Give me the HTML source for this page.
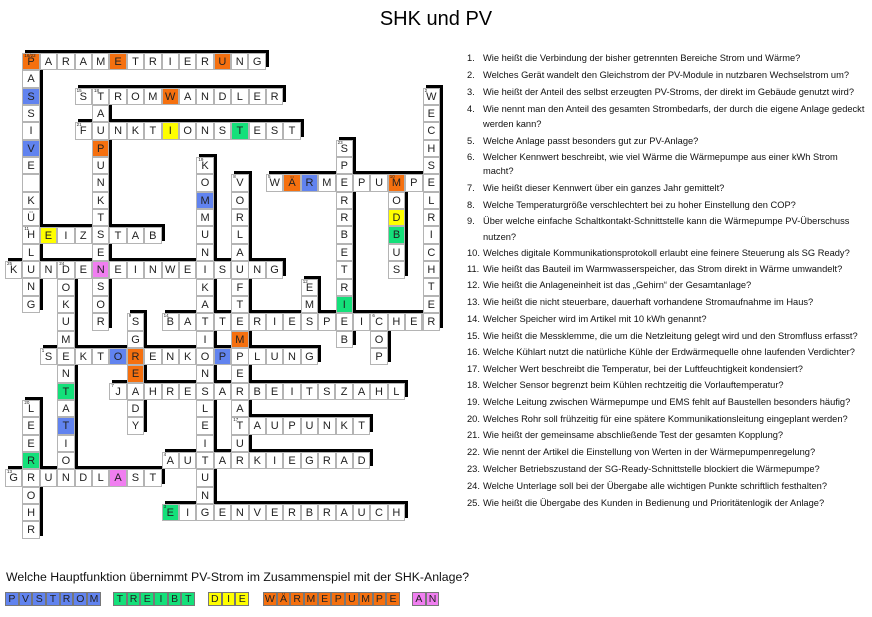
<!DOCTYPE html>
<html><head><meta charset="utf-8">
<style>
body{margin:0;width:872px;height:617px;background:#fff;position:relative;overflow:hidden;font-family:"Liberation Sans",Arial,sans-serif}
.s{position:absolute;background:#000}
.w{position:absolute;display:flex}
.v{flex-direction:column}
.w b{display:block;width:17.4px;height:17.35px;box-sizing:border-box;border:1px solid #b4b4b4;background:#fff;font-weight:normal;font-size:11px;line-height:16px;text-align:center;color:#222;position:relative}
.w b i{position:absolute;left:1px;top:-1px;font-size:4.5px;line-height:5px;font-style:normal;color:#222}
.w b.o{background:#f5700f}.w b.u{background:#6183ef}.w b.y{background:#ffff00}.w b.g{background:#14e07a}.w b.p{background:#f07ef0}
.t{position:absolute;font-size:20px;left:0;width:872px;text-align:center;top:8px}
.q{position:absolute;left:6px;top:570px;font-size:12.3px;color:#111}
.a{position:absolute;top:592px;display:flex}
.a b{display:block;width:13.7px;height:14px;box-sizing:border-box;border:1px solid #777;font-weight:normal;font-size:10.5px;line-height:12px;text-align:center;color:#222}
.a.u b{background:#6183ef}.a.g b{background:#14e07a}.a.y b{background:#ffff00}.a.o b{background:#f5700f}.a.p b{background:#f07ef0}
.n{position:absolute;left:467px;font-size:9.3px;color:#111;white-space:nowrap}
.x{position:absolute;left:483px;font-size:9.3px;color:#111;white-space:nowrap}
</style></head><body>
<div class="t">SHK und PV</div>

<div class="s" style="left:25.4px;top:50px;width:243.6px;height:17.4px"></div>
<div class="s" style="left:77.6px;top:84.7px;width:208.8px;height:17.4px"></div>
<div class="s" style="left:77.6px;top:119.4px;width:226.2px;height:17.4px"></div>
<div class="s" style="left:269px;top:171.45px;width:174px;height:17.4px"></div>
<div class="s" style="left:25.4px;top:223.5px;width:139.2px;height:17.4px"></div>
<div class="s" style="left:8px;top:258.2px;width:278.4px;height:17.4px"></div>
<div class="s" style="left:164.6px;top:310.25px;width:278.4px;height:17.4px"></div>
<div class="s" style="left:42.8px;top:344.95px;width:278.4px;height:17.4px"></div>
<div class="s" style="left:112.4px;top:379.65px;width:295.8px;height:17.4px"></div>
<div class="s" style="left:234.2px;top:414.35px;width:139.2px;height:17.4px"></div>
<div class="s" style="left:164.6px;top:449.05px;width:208.8px;height:17.4px"></div>
<div class="s" style="left:8px;top:466.4px;width:156.6px;height:17.4px"></div>
<div class="s" style="left:164.6px;top:501.1px;width:243.6px;height:17.4px"></div>
<div class="s" style="left:25.4px;top:50px;width:17.4px;height:260.25px"></div>
<div class="s" style="left:95px;top:84.7px;width:17.4px;height:242.9px"></div>
<div class="s" style="left:199.4px;top:154.1px;width:17.4px;height:364.35px"></div>
<div class="s" style="left:234.2px;top:171.45px;width:17.4px;height:294.95px"></div>
<div class="s" style="left:338.6px;top:136.75px;width:17.4px;height:208.2px"></div>
<div class="s" style="left:390.8px;top:171.45px;width:17.4px;height:104.1px"></div>
<div class="s" style="left:425.6px;top:84.7px;width:17.4px;height:242.9px"></div>
<div class="s" style="left:303.8px;top:275.55px;width:17.4px;height:52.05px"></div>
<div class="s" style="left:373.4px;top:310.25px;width:17.4px;height:52.05px"></div>
<div class="s" style="left:129.8px;top:310.25px;width:17.4px;height:121.45px"></div>
<div class="s" style="left:60.2px;top:258.2px;width:17.4px;height:225.55px"></div>
<div class="s" style="left:25.4px;top:397px;width:17.4px;height:138.8px"></div>

<div class="w" style="left:22.4px;top:53px"><b class="o"><i>16/22</i>P</b><b>A</b><b>R</b><b>A</b><b>M</b><b class="o">E</b><b>T</b><b>R</b><b>I</b><b>E</b><b>R</b><b class="o">U</b><b>N</b><b>G</b></div>
<div class="w" style="left:74.6px;top:87.7px"><b><i>15</i>S</b><b><i>18</i>T</b><b>R</b><b>O</b><b>M</b><b class="o">W</b><b>A</b><b>N</b><b>D</b><b>L</b><b>E</b><b>R</b></div>
<div class="w" style="left:74.6px;top:122.4px"><b><i>21</i>F</b><b>U</b><b>N</b><b>K</b><b>T</b><b class="y">I</b><b>O</b><b>N</b><b>S</b><b class="g">T</b><b>E</b><b>S</b><b>T</b></div>
<div class="w" style="left:266px;top:174.45px"><b><i>5</i>W</b><b class="o">Ä</b><b class="u">R</b><b>M</b><b>E</b><b>P</b><b>U</b><b class="o"><i>10</i>M</b><b>P</b><b>E</b></div>
<div class="w" style="left:22.4px;top:226.5px"><b><i>11</i>H</b><b class="y">E</b><b>I</b><b>Z</b><b>S</b><b>T</b><b>A</b><b>B</b></div>
<div class="w" style="left:5px;top:261.2px"><b><i>25</i>K</b><b>U</b><b>N</b><b><i>24</i>D</b><b>E</b><b class="p">N</b><b>E</b><b>I</b><b>N</b><b>W</b><b>E</b><b>I</b><b>S</b><b>U</b><b>N</b><b>G</b></div>
<div class="w" style="left:161.6px;top:313.25px"><b><i>14</i>B</b><b>A</b><b>T</b><b>T</b><b>E</b><b>R</b><b>I</b><b>E</b><b>S</b><b>P</b><b>E</b><b>I</b><b><i>6</i>C</b><b>H</b><b>E</b><b>R</b></div>
<div class="w" style="left:39.8px;top:347.95px"><b><i>1</i>S</b><b>E</b><b>K</b><b>T</b><b class="u">O</b><b class="o">R</b><b>E</b><b>N</b><b>K</b><b>O</b><b class="u">P</b><b>P</b><b>L</b><b>U</b><b>N</b><b>G</b></div>
<div class="w" style="left:109.4px;top:382.65px"><b><i>7</i>J</b><b>A</b><b>H</b><b>R</b><b>E</b><b>S</b><b>A</b><b>R</b><b>B</b><b>E</b><b>I</b><b>T</b><b>S</b><b>Z</b><b>A</b><b>H</b><b>L</b></div>
<div class="w" style="left:231.2px;top:417.35px"><b><i>17</i>T</b><b>A</b><b>U</b><b>P</b><b>U</b><b>N</b><b>K</b><b>T</b></div>
<div class="w" style="left:161.6px;top:452.05px"><b><i>4</i>A</b><b>U</b><b>T</b><b>A</b><b>R</b><b>K</b><b>I</b><b>E</b><b>G</b><b>R</b><b>A</b><b>D</b></div>
<div class="w" style="left:5px;top:469.4px"><b><i>13</i>G</b><b>R</b><b>U</b><b>N</b><b>D</b><b>L</b><b class="p">A</b><b>S</b><b>T</b></div>
<div class="w" style="left:161.6px;top:504.1px"><b class="g"><i>3</i>E</b><b>I</b><b>G</b><b>E</b><b>N</b><b>V</b><b>E</b><b>R</b><b>B</b><b>R</b><b>A</b><b>U</b><b>C</b><b>H</b></div>

<div class="w v" style="left:22.4px;top:53px"><b class="o"><i>16/22</i>P</b><b>A</b><b class="u">S</b><b>S</b><b>I</b><b class="u">V</b><b>E</b><b>&nbsp;</b><b>K</b><b>Ü</b><b><i>11</i>H</b><b>L</b><b>U</b><b>N</b><b>G</b></div>
<div class="w v" style="left:92px;top:87.7px"><b><i>18</i>T</b><b>A</b><b>U</b><b class="o">P</b><b>U</b><b>N</b><b>K</b><b>T</b><b>S</b><b>E</b><b class="p">N</b><b>S</b><b>O</b><b>R</b></div>
<div class="w v" style="left:196.4px;top:157.1px"><b><i>19</i>K</b><b>O</b><b class="u">M</b><b>M</b><b>U</b><b>N</b><b>I</b><b>K</b><b>A</b><b>T</b><b>I</b><b>O</b><b>N</b><b>S</b><b>L</b><b>E</b><b>I</b><b>T</b><b>U</b><b>N</b><b>G</b></div>
<div class="w v" style="left:231.2px;top:174.45px"><b><i>8</i>V</b><b>O</b><b>R</b><b>L</b><b>A</b><b>U</b><b>F</b><b>T</b><b>E</b><b class="o">M</b><b>P</b><b>E</b><b>R</b><b>A</b><b><i>17</i>T</b><b>U</b><b>R</b></div>
<div class="w v" style="left:335.6px;top:139.75px"><b><i>23</i>S</b><b>P</b><b>E</b><b>R</b><b>R</b><b>B</b><b>E</b><b>T</b><b>R</b><b class="g">I</b><b>E</b><b>B</b></div>
<div class="w v" style="left:387.8px;top:174.45px"><b class="o"><i>10</i>M</b><b>O</b><b class="y">D</b><b class="g">B</b><b>U</b><b>S</b></div>
<div class="w v" style="left:422.6px;top:87.7px"><b><i>2</i>W</b><b>E</b><b>C</b><b>H</b><b>S</b><b>E</b><b>L</b><b>R</b><b>I</b><b>C</b><b>H</b><b>T</b><b>E</b><b>R</b></div>
<div class="w v" style="left:300.8px;top:278.55px"><b><i>12</i>E</b><b>M</b><b>S</b></div>
<div class="w v" style="left:370.4px;top:313.25px"><b><i>6</i>C</b><b>O</b><b>P</b></div>
<div class="w v" style="left:126.8px;top:313.25px"><b><i>9</i>S</b><b>G</b><b class="o">R</b><b class="o">E</b><b>A</b><b>D</b><b>Y</b></div>
<div class="w v" style="left:57.2px;top:261.2px"><b><i>24</i>D</b><b>O</b><b>K</b><b>U</b><b>M</b><b>E</b><b>N</b><b class="g">T</b><b>A</b><b class="u">T</b><b>I</b><b>O</b><b>N</b></div>
<div class="w v" style="left:22.4px;top:400px"><b><i>20</i>L</b><b>E</b><b>E</b><b class="g">R</b><b>R</b><b>O</b><b>H</b><b>R</b></div>

<div class="q">Welche Hauptfunktion übernimmt PV-Strom im Zusammenspiel mit der SHK-Anlage?</div>
<div class="a u" style="left:5px"><b>P</b><b>V</b><b>S</b><b>T</b><b>R</b><b>O</b><b>M</b></div>
<div class="a g" style="left:113px"><b>T</b><b>R</b><b>E</b><b>I</b><b>B</b><b>T</b></div>
<div class="a y" style="left:208px"><b>D</b><b>I</b><b>E</b></div>
<div class="a o" style="left:263px"><b>W</b><b>Ä</b><b>R</b><b>M</b><b>E</b><b>P</b><b>U</b><b>M</b><b>P</b><b>E</b></div>
<div class="a p" style="left:412px"><b>A</b><b>N</b></div>

<div class="n" style="top:53px">1.</div><div class="x" style="top:53px">Wie heißt die Verbindung der bisher getrennten Bereiche Strom und Wärme?</div>
<div class="n" style="top:70px">2.</div><div class="x" style="top:70px">Welches Gerät wandelt den Gleichstrom der PV-Module in nutzbaren Wechselstrom um?</div>
<div class="n" style="top:87px">3.</div><div class="x" style="top:87px">Wie heißt der Anteil des selbst erzeugten PV-Stroms, der direkt im Gebäude genutzt wird?</div>
<div class="n" style="top:104px">4.</div><div class="x" style="top:104px">Wie nennt man den Anteil des gesamten Strombedarfs, der durch die eigene Anlage gedeckt</div>
<div class="x" style="top:119px">werden kann?</div>
<div class="n" style="top:136px">5.</div><div class="x" style="top:136px">Welche Anlage passt besonders gut zur PV-Anlage?</div>
<div class="n" style="top:152px">6.</div><div class="x" style="top:152px">Welcher Kennwert beschreibt, wie viel Wärme die Wärmepumpe aus einer kWh Strom</div>
<div class="x" style="top:166px">macht?</div>
<div class="n" style="top:183px">7.</div><div class="x" style="top:183px">Wie heißt dieser Kennwert über ein ganzes Jahr gemittelt?</div>
<div class="n" style="top:200px">8.</div><div class="x" style="top:200px">Welche Temperaturgröße verschlechtert bei zu hoher Einstellung den COP?</div>
<div class="n" style="top:216px">9.</div><div class="x" style="top:216px">Über welche einfache Schaltkontakt-Schnittstelle kann die Wärmepumpe PV-Überschuss</div>
<div class="x" style="top:232px">nutzen?</div>
<div class="n" style="top:248px">10.</div><div class="x" style="top:248px">Welches digitale Kommunikationsprotokoll erlaubt eine feinere Steuerung als SG Ready?</div>
<div class="n" style="top:264px">11.</div><div class="x" style="top:264px">Wie heißt das Bauteil im Warmwasserspeicher, das Strom direkt in Wärme umwandelt?</div>
<div class="n" style="top:280px">12.</div><div class="x" style="top:280px">Wie heißt die Anlageneinheit ist das „Gehirn“ der Gesamtanlage?</div>
<div class="n" style="top:297px">13.</div><div class="x" style="top:297px">Wie heißt die nicht steuerbare, dauerhaft vorhandene Stromaufnahme im Haus?</div>
<div class="n" style="top:314px">14.</div><div class="x" style="top:314px">Welcher Speicher wird im Artikel mit 10 kWh genannt?</div>
<div class="n" style="top:331px">15.</div><div class="x" style="top:331px">Wie heißt die Messklemme, die um die Netzleitung gelegt wird und den Stromfluss erfasst?</div>
<div class="n" style="top:347px">16.</div><div class="x" style="top:347px">Welche Kühlart nutzt die natürliche Kühle der Erdwärmequelle ohne laufenden Verdichter?</div>
<div class="n" style="top:364px">17.</div><div class="x" style="top:364px">Welcher Wert beschreibt die Temperatur, bei der Luftfeuchtigkeit kondensiert?</div>
<div class="n" style="top:380px">18.</div><div class="x" style="top:380px">Welcher Sensor begrenzt beim Kühlen rechtzeitig die Vorlauftemperatur?</div>
<div class="n" style="top:397px">19.</div><div class="x" style="top:397px">Welche Leitung zwischen Wärmepumpe und EMS fehlt auf Baustellen besonders häufig?</div>
<div class="n" style="top:414px">20.</div><div class="x" style="top:414px">Welches Rohr soll frühzeitig für eine spätere Kommunikationsleitung eingeplant werden?</div>
<div class="n" style="top:430px">21.</div><div class="x" style="top:430px">Wie heißt der gemeinsame abschließende Test der gesamten Kopplung?</div>
<div class="n" style="top:447px">22.</div><div class="x" style="top:447px">Wie nennt der Artikel die Einstellung von Werten in der Wärmepumpenregelung?</div>
<div class="n" style="top:464px">23.</div><div class="x" style="top:464px">Welcher Betriebszustand der SG-Ready-Schnittstelle blockiert die Wärmepumpe?</div>
<div class="n" style="top:481px">24.</div><div class="x" style="top:481px">Welche Unterlage soll bei der Übergabe alle wichtigen Punkte schriftlich festhalten?</div>
<div class="n" style="top:498px">25.</div><div class="x" style="top:498px">Wie heißt die Übergabe des Kunden in Bedienung und Prioritätenlogik der Anlage?</div>
</body></html>
